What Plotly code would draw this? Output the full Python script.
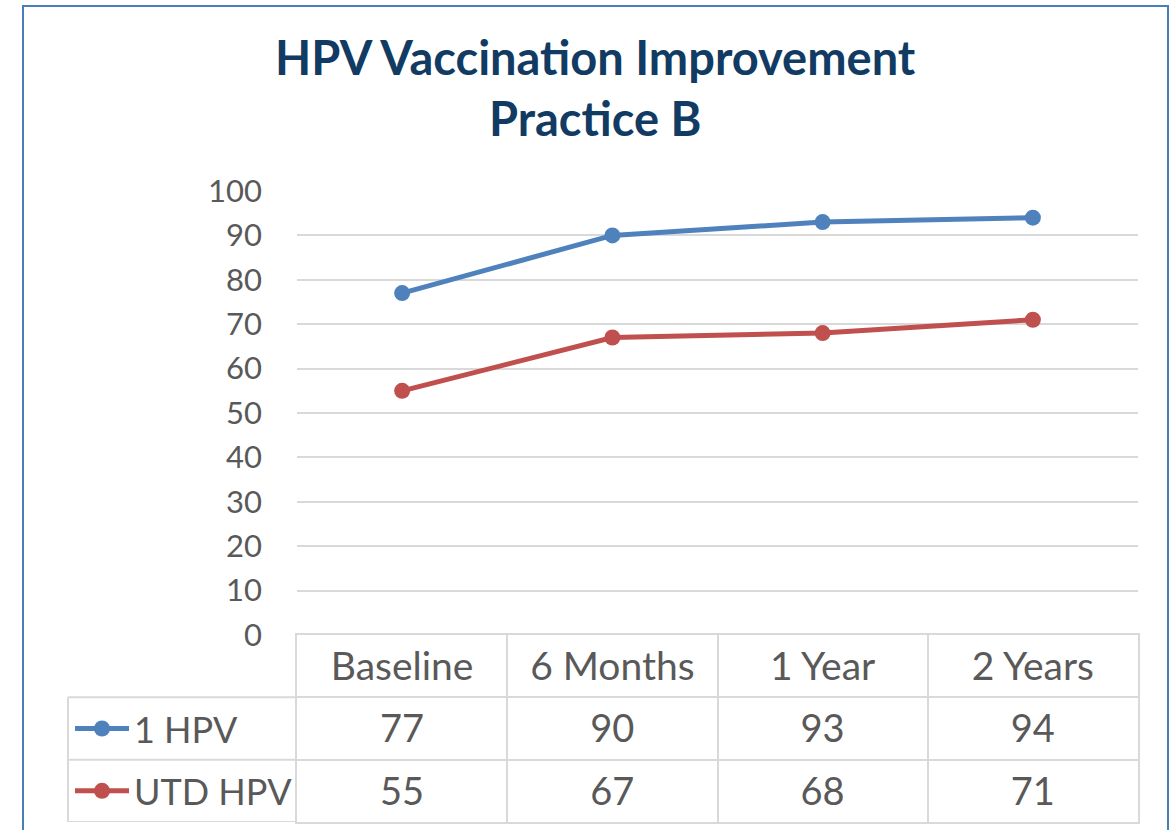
import plotly.graph_objects as go

categories = ["Baseline", "6 Months", "1 Year", "2 Years"]
series_names = ["1 HPV", "UTD HPV"]
one_hpv = [77, 90, 93, 94]
utd_hpv = [55, 67, 68, 71]
series_values = [one_hpv, utd_hpv]
series_colors = ["#4F81BD", "#C0504D"]
y_ticks = list(range(0, 101, 10))
title_lines = ["HPV Vaccination Improvement", "Practice B"]

W, H = 1173, 830
L, R, T, B = 297, 1173 - 1138, 191, 830 - 822
plot_w = W - L - R
plot_h = H - T - B
table_top_px = 635
split = (822 - table_top_px) / plot_h

FONT = "Lato"
TXT = "#595959"
GRID = "#D9D9D9"
TEXT_NUDGE = 0.07  # optical centring of cell text inside its row

fig = go.Figure()

for name, vals, col in zip(series_names, series_values, series_colors):
    fig.add_trace(go.Scatter(
        x=categories, y=vals, name=name, mode="lines+markers",
        line=dict(color=col, width=5), marker=dict(color=col, size=16),
        xaxis="x", yaxis="y", showlegend=False, cliponaxis=False,
    ))

# table header row
fig.add_trace(go.Scatter(
    x=categories, y=[0.5 + TEXT_NUDGE] * len(categories), text=categories, mode="text",
    textfont=dict(family=FONT, size=39, color=TXT),
    xaxis="x2", yaxis="y2", showlegend=False, hoverinfo="skip",
))
# table value rows
for i, vals in enumerate(series_values):
    fig.add_trace(go.Scatter(
        x=categories, y=[i + 1.5 + TEXT_NUDGE] * len(categories), text=[str(v) for v in vals],
        mode="text", textfont=dict(family=FONT, size=38, color=TXT),
        xaxis="x2", yaxis="y2", showlegend=False, hoverinfo="skip",
    ))

def px_to_xpaper(px):
    return (px - L) / plot_w

def py_to_ypaper(py):
    return (H - B - py) / plot_h

shapes = []
left_x = px_to_xpaper(68)
for r in [1, 2, 3]:
    shapes.append(dict(type="line", xref="paper", yref="y2", x0=left_x, x1=0,
                       y0=r, y1=r, line=dict(color=GRID, width=2)))
shapes.append(dict(type="line", xref="paper", yref="y2", x0=left_x, x1=left_x,
                   y0=1, y1=3, line=dict(color=GRID, width=2)))

annotations = []
for i, (name, col) in enumerate(zip(series_names, series_colors)):
    yrow = i + 1.5
    shapes.append(dict(type="line", xref="paper", yref="y2",
                       x0=px_to_xpaper(75), x1=px_to_xpaper(129), y0=yrow, y1=yrow,
                       line=dict(color=col, width=5)))
    cx = px_to_xpaper(102)
    rx = 8 / plot_w
    ry = 8 / (plot_h * split) * 3
    shapes.append(dict(type="circle", xref="paper", yref="y2",
                       x0=cx - rx, x1=cx + rx, y0=yrow - ry, y1=yrow + ry,
                       fillcolor=col, line=dict(width=0)))
    annotations.append(dict(text=name, xref="paper", yref="y2",
                            x=px_to_xpaper(132), y=yrow, xanchor="left", yanchor="middle",
                            showarrow=False, font=dict(family=FONT, size=36, color=TXT)))

# outer chart border
shapes.append(dict(type="rect", xref="paper", yref="paper",
                   x0=px_to_xpaper(23), x1=px_to_xpaper(1168),
                   y0=py_to_ypaper(845), y1=py_to_ypaper(6),
                   line=dict(color="#4A7EBB", width=2), fillcolor="rgba(0,0,0,0)"))

annotations.append(dict(
    text="<b>" + "<br>".join(title_lines) + "</b>",
    xref="paper", yref="paper", x=px_to_xpaper(595), y=py_to_ypaper(27),
    xanchor="center", yanchor="top", showarrow=False, align="center",
    font=dict(family=FONT, size=47, color="#123B63"),
))

fig.update_layout(
    width=W, height=H,
    margin=dict(l=L, r=R, t=T, b=B, pad=0, autoexpand=False),
    paper_bgcolor="white", plot_bgcolor="white",
    xaxis=dict(domain=[0, 1], range=[-0.5, 3.5], showticklabels=False, showgrid=False,
               zeroline=False, showline=False, anchor="y", type="category",
               categoryorder="array", categoryarray=categories, automargin=False),
    yaxis=dict(domain=[split, 1], range=[0, 100], tickvals=y_ticks, showgrid=True,
               gridcolor=GRID, gridwidth=2, zeroline=False, showline=False,
               tickfont=dict(family=FONT, size=31, color=TXT), ticklabelstandoff=34,
               anchor="x", automargin=False),
    xaxis2=dict(domain=[0, 1], range=[-0.5, 3.5], type="category", categoryorder="array",
                categoryarray=categories, tickson="boundaries", showgrid=True,
                gridcolor=GRID, gridwidth=2, showticklabels=False, ticks="",
                zeroline=False, showline=True, mirror=True, linecolor=GRID, linewidth=2,
                anchor="y2", automargin=False),
    yaxis2=dict(domain=[0, split], range=[3, 0], tickvals=[0, 1, 2, 3], showgrid=True,
                gridcolor=GRID, gridwidth=2, showticklabels=False, zeroline=False,
                showline=True, mirror=True, linecolor=GRID, linewidth=2, anchor="x2",
                automargin=False),
    shapes=shapes, annotations=annotations,
)

fig.write_html("out.html", config={"displayModeBar": False},
               post_script="document.body.style.margin='0';")
